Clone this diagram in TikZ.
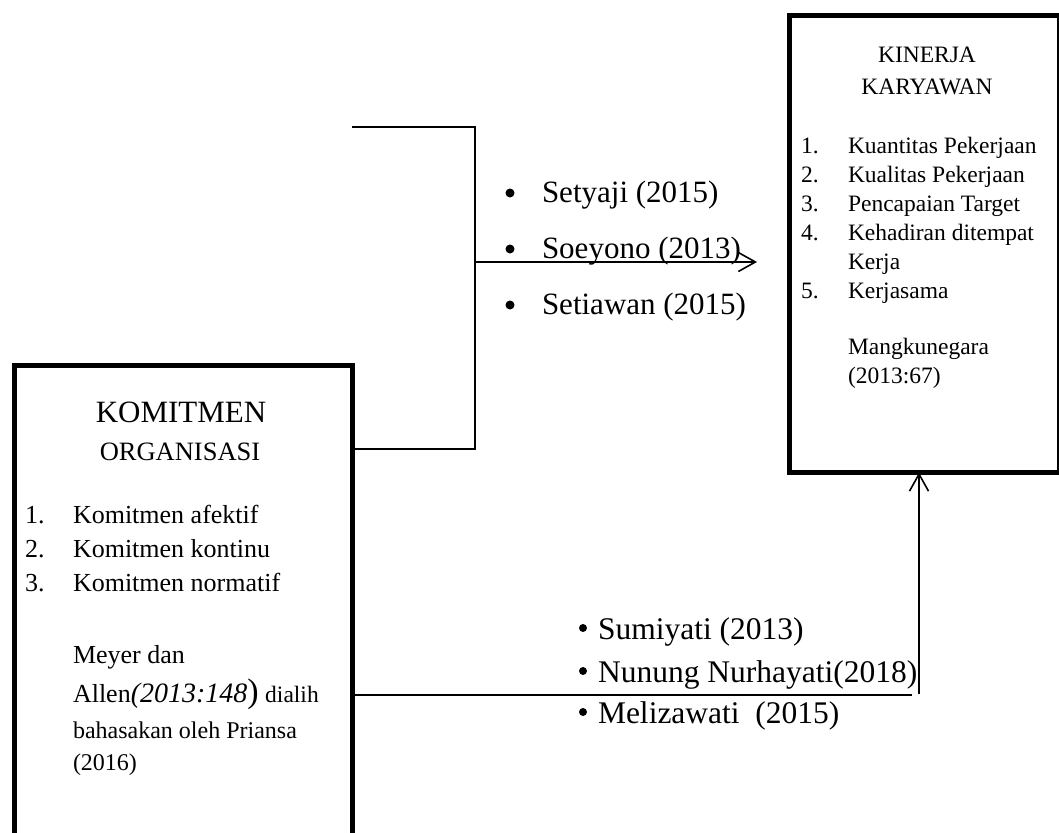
\documentclass[tikz,border=0pt]{standalone}
\usepackage{fontspec}
\setmainfont{Liberation Serif}
\usetikzlibrary{arrows.meta}
\newcommand\fz[1]{\fontsize{#1}{#1}\selectfont}
\tikzset{
  txt/.style={inner sep=0pt, outer sep=0pt, anchor=base west},
  ctxt/.style={inner sep=0pt, outer sep=0pt, anchor=base},
  bigbox/.style={draw, line width=5pt, inner sep=0pt, anchor=north west},
  conn/.style={line width=1.6pt},
  dotA/.style={circle, fill, inner sep=0pt, minimum size=9pt},
  dotB/.style={circle, fill, inner sep=0pt, minimum size=8pt},
  tip/.style={-{Straight Barb[length=17pt,width=19pt,line width=1.6pt]}}
}
\begin{document}
\begin{tikzpicture}[x=1pt,y=-1pt]
\useasboundingbox (0,0) rectangle (1059,832);
\clip (0,0) rectangle (1059,832);
\fill[white] (0,0) rectangle (1059,832);
% boxes
\node[bigbox, minimum width=338pt, minimum height=520pt] (kom) at (12,363) {};
\node[bigbox, minimum width=270pt, minimum height=457pt] (kin) at (787,13) {};
% left box text
\node[ctxt] (komA) at (181,422) {\fz{31}KOMITMEN};
\node[ctxt] (komB) at (180,460) {\fz{26.5}ORGANISASI};
\node[txt] (kn1) at (25,523) {\fz{26}1.};
\node[txt] (kt1) at (73,523) {\fz{26}Komitmen afektif};
\node[txt] (kn2) at (25,557) {\fz{26}2.};
\node[txt] (kt2) at (73,557) {\fz{26}Komitmen kontinu};
\node[txt] (kn3) at (25,591) {\fz{26}3.};
\node[txt] (kt3) at (73,591) {\fz{26}Komitmen normatif};
\node[txt] (src1) at (73,663) {\fz{26}Meyer dan};
\node[txt] (src2) at (73,702) {\fz{26}Allen{\fz{28}\itshape(2013:148}{\fz{34})} {\fz{23.5}dialih}};
\node[txt] (src3) at (73,738) {\fz{24}bahasakan oleh Priansa};
\node[txt] (src4) at (73,770) {\fz{24}(2016)};
% right box text
\node[ctxt] (kinA) at (927,63) {\fz{23.5}KINERJA};
\node[ctxt] (kinB) at (927,95) {\fz{23.5}KARYAWAN};
\node[txt] (rn1) at (801,153) {\fz{23.5}1.};
\node[txt] (rt1) at (848,153) {\fz{23.5}Kuantitas Pekerjaan};
\node[txt] (rn2) at (801,182) {\fz{23.5}2.};
\node[txt] (rt2) at (848,182) {\fz{23.5}Kualitas Pekerjaan};
\node[txt] (rn3) at (801,211) {\fz{23.5}3.};
\node[txt] (rt3) at (848,211) {\fz{23.5}Pencapaian Target};
\node[txt] (rn4) at (801,240) {\fz{23.5}4.};
\node[txt] (rt4) at (848,240) {\fz{23.5}Kehadiran ditempat};
\node[txt] (rt4b) at (848,269) {\fz{23.5}Kerja};
\node[txt] (rn5) at (801,298) {\fz{23.5}5.};
\node[txt] (rt5) at (848,298) {\fz{23.5}Kerjasama};
\node[txt] (rs1) at (848,354) {\fz{23.5}Mangkunegara};
\node[txt] (rs2) at (848,383) {\fz{23.5}(2013:67)};
% top bullets
\node[dotA] (tb1) at (510,193) {};
\node[txt] (tt1) at (542,202) {\fz{31}Setyaji (2015)};
\node[dotA] (tb2) at (510,249) {};
\node[txt] (tt2) at (542,258) {\fz{31}Soeyono (2013)};
\node[dotA] (tb3) at (510,305) {};
\node[txt] (tt3) at (542,314) {\fz{31}Setiawan (2015)};
% bottom bullets
\node[dotB] (bb1) at (583,628) {};
\node[txt] (bt1) at (598,639) {\fz{31.5}Sumiyati (2013)};
\node[dotB] (bb2) at (583,671) {};
\node[txt] (bt2) at (598,682) {\fz{31.5}Nunung Nurhayati(2018)};
\node[dotB] (bb3) at (583,712) {};
\node[txt] (bt3) at (598,723) {\fz{31.5}Melizawati\ \ (2015)};
% connectors
\coordinate (t1) at (352,127);
\coordinate (t2) at (475,127);
\coordinate (b2) at (475,449);
\coordinate (am) at (475,262);
\coordinate (ae) at (757,262);
\draw[conn] (t1) -- (t2) -- (b2) -- (kom.east |- b2);
\draw[conn, tip] (am) -- (ae);
\coordinate (h1) at (912,695);
\coordinate (v1) at (919,694);
\draw[conn] (kom.east |- h1) -- (h1);
\draw[conn, tip] (v1) -- ([yshift=2.5pt]kin.south -| v1);
\end{tikzpicture}
\end{document}
